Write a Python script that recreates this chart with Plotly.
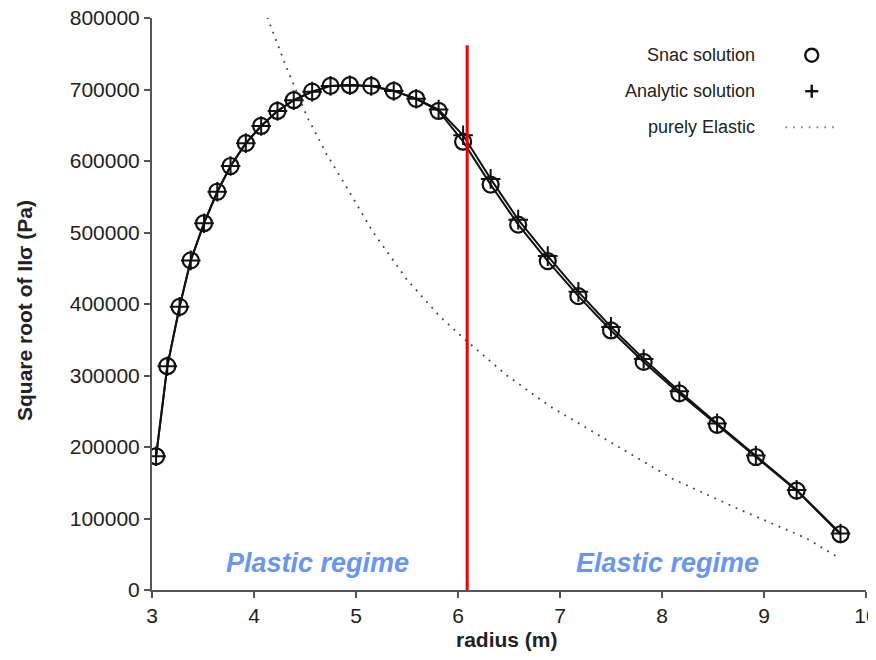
import plotly.graph_objects as go

# ---- data ----
radius = [3.04, 3.15, 3.27, 3.38, 3.51, 3.64, 3.77, 3.92, 4.07, 4.23, 4.39, 4.57, 4.75, 4.94, 5.15,
          5.37, 5.59, 5.81, 6.05, 6.32, 6.59, 6.88, 7.18, 7.50, 7.82, 8.17, 8.54, 8.92, 9.32, 9.75]
snac_y = [187000, 313000, 396000, 461000, 513000, 557000, 593000, 625000, 649000, 670000, 685000,
          697000, 705000, 706000, 705000, 698000, 687000, 670000, 627000, 567000, 511000, 460000,
          411000, 363000, 319000, 275000, 231000, 186000, 139000, 78000]
analytic_y = [187000, 313000, 396000, 461000, 513000, 557000, 593000, 625000, 649000, 670000, 685000,
              697000, 705000, 706000, 705000, 698000, 687000, 672000, 636000, 575000, 518000, 467000,
              417000, 368000, 323000, 278000, 233000, 188000, 140000, 79000]
elastic_r = [4.13, 4.31, 4.52, 4.71, 4.88, 5.17, 5.50, 5.82, 6.07, 6.20, 6.48, 6.90, 7.46, 8.11,
             8.77, 9.42, 9.70]
elastic_y = [801000, 734000, 662000, 610000, 570000, 500000, 434000, 383000, 350000, 334000,
             300000, 257000, 210000, 155000, 112000, 72000, 48000]
boundary_r = 6.09
x_ticks = [3, 4, 5, 6, 7, 8, 9, 10]
y_ticks = [0, 100000, 200000, 300000, 400000, 500000, 600000, 700000, 800000]
legend_labels = ["Snac solution", "Analytic solution", "purely Elastic"]
regime_labels = ["Plastic regime", "Elastic regime"]
regime_x = [4.62, 8.05]
regime_y = [38000, 38000]
x_title = "radius (m)"
y_title = "Square root of IIσ (Pa)"

FONT = "Liberation Sans, Arial, sans-serif"

# the page body has an 8px margin, so the figure is made 8px smaller
W, H = 868, 652
ML, MR, MT, MB = 144, 10, 10, 70
PW, PH = W - ML - MR, H - MT - MB

fig = go.Figure()
fig.add_trace(go.Scatter(x=elastic_r, y=elastic_y, mode="lines",
                         line=dict(color="#444444", width=1.8, dash="1.8px,6px"),
                         showlegend=False, hoverinfo="skip"))
fig.add_trace(go.Scatter(x=radius, y=analytic_y, mode="lines+markers",
                         line=dict(color="#111111", width=2),
                         marker=dict(symbol="cross-thin-open", size=14, color="#111111",
                                     line=dict(width=2, color="#111111")),
                         showlegend=False))
fig.add_trace(go.Scatter(x=radius, y=snac_y, mode="lines+markers",
                         line=dict(color="#111111", width=2),
                         marker=dict(symbol="circle-open", size=16, color="#111111",
                                     line=dict(width=2.2, color="#111111")),
                         showlegend=False))

# red boundary line
fig.add_shape(type="line", x0=boundary_r, x1=boundary_r, y0=0, y1=762000,
              xref="x", yref="y", line=dict(color="#ee0000", width=3))

# regime labels
for t, xx, yy in zip(regime_labels, regime_x, regime_y):
    fig.add_annotation(x=xx, y=yy, text="<b><i>%s</i></b>" % t, showarrow=False,
                       font=dict(family=FONT, size=27, color="#6a96ee"))

# custom legend (text on the left, symbol on the right)
leg_y = [0.935, 0.872, 0.809]
for lab, yy in zip(legend_labels, leg_y):
    fig.add_annotation(x=0.848, y=yy, xref="paper", yref="paper", xanchor="right",
                       yanchor="middle", text=lab, showarrow=False,
                       font=dict(family=FONT, size=18, color="#222222"))
hx = 6.5 / PW
hy = 6.5 / PH
cx = 0.924
fig.add_shape(type="circle", xref="paper", yref="paper", x0=cx - hx, x1=cx + hx,
              y0=leg_y[0] - hy, y1=leg_y[0] + hy, line=dict(color="#111111", width=2.4))
fig.add_shape(type="line", xref="paper", yref="paper", x0=cx - hx, x1=cx + hx,
              y0=leg_y[1], y1=leg_y[1], line=dict(color="#111111", width=2.4))
fig.add_shape(type="line", xref="paper", yref="paper", x0=cx, x1=cx,
              y0=leg_y[1] - hy, y1=leg_y[1] + hy, line=dict(color="#111111", width=2.4))
fig.add_shape(type="line", xref="paper", yref="paper", x0=0.887, x1=0.961,
              y0=leg_y[2], y1=leg_y[2], line=dict(color="#888888", width=1.8, dash="1.8px,6px"))

# axis titles as annotations for exact placement
fig.add_annotation(x=-0.1793, y=0.4895, xref="paper", yref="paper", text="<b>%s</b>" % y_title,
                   textangle=-90, showarrow=False, xanchor="center", yanchor="middle",
                   font=dict(family=FONT, size=21, color="#222222"))
fig.add_annotation(x=0.497, y=-0.0874, xref="paper", yref="paper", text="<b>%s</b>" % x_title,
                   showarrow=False, xanchor="center", yanchor="middle",
                   font=dict(family=FONT, size=21, color="#222222"))

fig.update_layout(
    width=W, height=H,
    margin=dict(l=ML, r=MR, t=MT, b=MB),
    paper_bgcolor="white", plot_bgcolor="white",
    font=dict(family=FONT, size=21, color="#222222"),
    showlegend=False,
)
fig.update_xaxes(range=[3, 10], tickvals=x_ticks, ticktext=[str(v) for v in x_ticks],
                 showgrid=False, zeroline=False, showline=True, linecolor="#555555", linewidth=2,
                 ticks="outside", ticklen=6, tickwidth=1.5, tickcolor="#555555",
                 tickfont=dict(size=21, family=FONT, color="#222222"),
                 ticklabeloverflow="allow", automargin=False)
fig.update_yaxes(range=[0, 800000], tickvals=y_ticks, ticktext=[str(v) for v in y_ticks],
                 showgrid=False, zeroline=False, showline=True, linecolor="#555555", linewidth=2,
                 ticks="outside", ticklen=6, tickwidth=1.5, tickcolor="#555555",
                 tickfont=dict(size=21, family=FONT, color="#222222"),
                 ticklabeloverflow="allow", automargin=False)

fig.write_html("out.html")
